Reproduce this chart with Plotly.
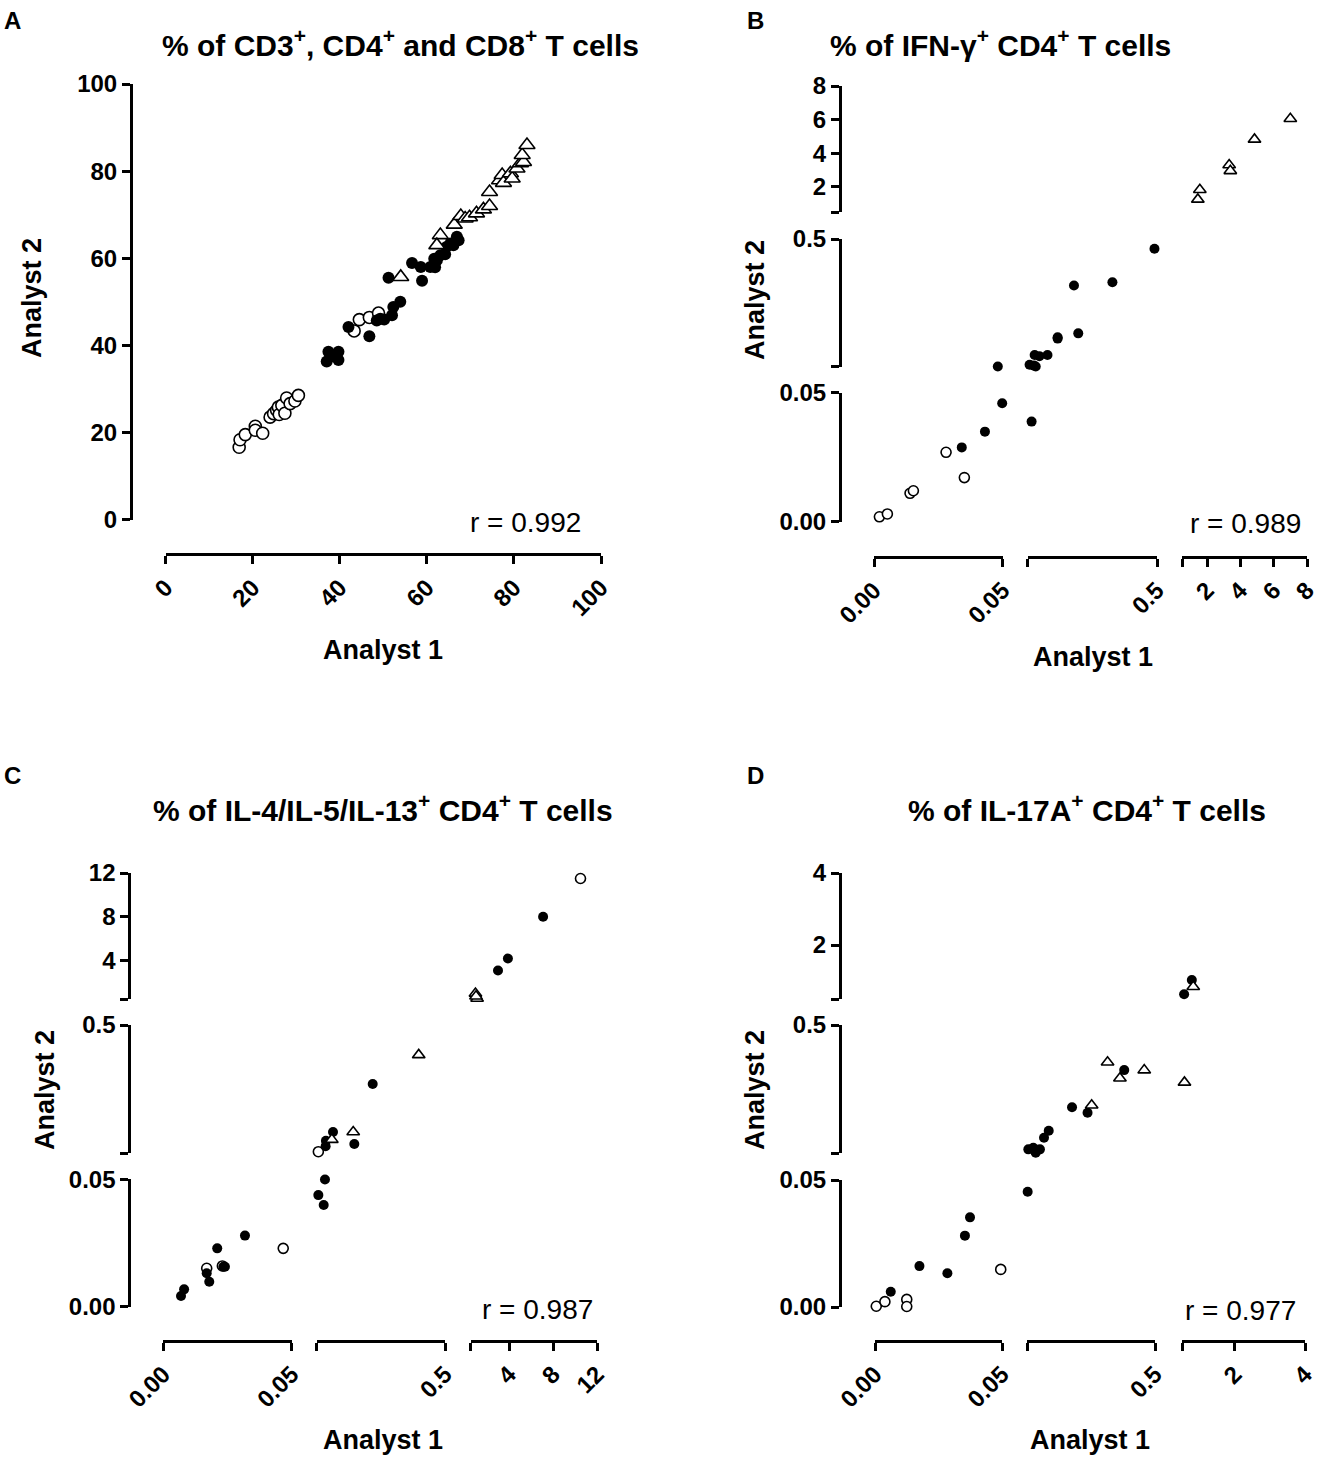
import math
import plotly.graph_objects as go

W, H = 1318, 1458
FONT = "Liberation Sans, Arial, sans-serif"

# ---------------- data ----------------
# Panel A: % of CD3+, CD4+ and CD8+ T cells
a_open_x = [16.9, 17.1, 18.3, 20.6, 20.6, 22.3, 24.0, 24.8, 25.5, 25.9, 26.1, 26.7, 27.4, 27.8, 28.6, 29.7, 30.5,
            43.3, 44.5, 46.8, 48.9]
a_open_y = [16.6, 18.3, 19.5, 21.4, 20.5, 19.8, 23.5, 24.3, 25.1, 25.8, 24.1, 26.2, 24.4, 27.9, 26.6, 27.2, 28.5,
            43.3, 45.9, 46.4, 47.4]
a_fill_x = [37.4, 39.7, 37.0, 39.7, 38.4, 42.0, 46.8, 48.5, 49.3, 50.2, 52.0, 52.3, 53.9, 51.2, 56.6, 58.9, 58.6,
            60.8, 61.9, 61.7, 62.3, 63.1, 64.2, 64.5, 65.4, 66.9, 67.3, 66.1]
a_fill_y = [38.5, 38.5, 36.3, 36.6, 37.5, 44.2, 42.1, 45.7, 46.1, 45.9, 46.9, 48.8, 50.0, 55.5, 58.9, 54.8, 58.0,
            58.0, 57.9, 59.9, 59.5, 60.7, 60.9, 62.6, 63.4, 64.9, 64.1, 63.0]
a_tri_x = [54.0, 63.1, 62.3, 66.3, 67.8, 68.8, 69.8, 71.4, 73.0, 74.4, 74.4, 76.7, 77.3, 77.6, 79.2, 79.6, 80.7,
           81.5, 82.2, 81.9, 83.0]
a_tri_y = [55.7, 65.3, 63.0, 67.7, 69.7, 69.1, 69.4, 70.3, 71.2, 72.0, 75.2, 77.9, 79.1, 77.3, 79.5, 78.3, 80.6,
           81.8, 82.1, 83.7, 86.0]

# Panel B: % of IFN-γ+ CD4+ T cells
b_open_x = [0.0021, 0.0052, 0.0140, 0.0153, 0.0280, 0.0351]
b_open_y = [0.0019, 0.0030, 0.0110, 0.0120, 0.0269, 0.0171]
b_fill_x = [0.0341, 0.0431, 0.0498, 0.0481, 0.0536, 0.0517, 0.0559, 0.0577, 0.0566, 0.0616, 0.0711,
            0.0852, 0.0852, 0.123, 0.114, 0.226, 0.478]
b_fill_y = [0.0288, 0.0349, 0.0459, 0.0502, 0.0388, 0.0518, 0.0510, 0.0502, 0.0618, 0.0605, 0.0618,
            0.0851, 0.0830, 0.0912, 0.216, 0.229, 0.419]
b_tri_x = [1.45, 1.57, 3.33, 3.40, 4.85, 7.0]
b_tri_y = [1.25, 1.82, 3.30, 2.95, 4.82, 6.05]

# Panel C: % of IL-4/IL-5/IL-13+ CD4+ T cells
c_open_x = [0.0169, 0.0230, 0.0467, 0.0515, 10.5]
c_open_y = [0.0151, 0.0160, 0.0229, 0.0512, 11.5]
c_fill_x = [0.0069, 0.0081, 0.0169, 0.0179, 0.0210, 0.0234, 0.0240, 0.0318, 0.0515, 0.0580, 0.0567,
            0.0587, 0.0590, 0.0670, 0.0982, 0.1366, 3.0, 3.9, 7.1]
c_fill_y = [0.0042, 0.0068, 0.0131, 0.0098, 0.0229, 0.0157, 0.0157, 0.0279, 0.0438, 0.0499, 0.0399,
            0.0564, 0.0622, 0.0729, 0.0587, 0.173, 3.1, 4.2, 8.0]
c_tri_x = [0.0656, 0.0963, 0.312, 0.95, 1.10, 1.0]
c_tri_y = [0.0636, 0.0729, 0.292, 1.0, 0.55, 0.75]

# Panel D: % of IL-17A+ CD4+ T cells
d_open_x = [0.0005, 0.0039, 0.0125, 0.0125, 0.0495]
d_open_y = [0.0003, 0.0021, 0.0030, 0.0002, 0.0148]
d_fill_x = [0.0062, 0.0175, 0.0285, 0.0354, 0.0374, 0.0506, 0.0512, 0.0560, 0.0585, 0.0631, 0.0679,
            0.0739, 0.1124, 0.1486, 0.2874, 0.56, 0.78]
d_fill_y = [0.0060, 0.0161, 0.0133, 0.0281, 0.0353, 0.0454, 0.0534, 0.0550, 0.0502, 0.0534, 0.0658,
            0.0746, 0.1139, 0.1031, 0.2221, 0.63, 1.03]
d_tri_x = [0.160, 0.213, 0.266, 0.412, 0.57, 0.82]
d_tri_y = [0.118, 0.256, 0.192, 0.222, 0.178, 0.84]

# axis tick labels
a_ticks = [0, 20, 40, 60, 80, 100]
seg1_ticks = [0, 0.05]
seg1_text = ["0.00", "0.05"]
seg2_ticks = [0.5]          # labelled tick of the log segment
seg2_text = ["0.5"]
seg2_edge = [0.05]          # unlabelled tick at the start of the log segment
seg3_edge = [0.5]           # unlabelled tick at the start of the upper segment
b_seg3_ticks = [2, 4, 6, 8]
c_seg3_ticks = [4, 8, 12]
d_seg3_ticks = [2, 4]

titles = {
    "A": "% of CD3<sup>+</sup>, CD4<sup>+</sup> and CD8<sup>+</sup> T cells",
    "B": "% of IFN-γ<sup>+</sup> CD4<sup>+</sup> T cells",
    "C": "% of IL-4/IL-5/IL-13<sup>+</sup> CD4<sup>+</sup> T cells",
    "D": "% of IL-17A<sup>+</sup> CD4<sup>+</sup> T cells",
}
r_values = {"A": "r = 0.992", "B": "r = 0.989", "C": "r = 0.987", "D": "r = 0.977"}

# ---------------- helpers ----------------
def px(x):
    return x / W

def py(y):
    return 1 - y / H

TICKFONT = dict(family=FONT, size=24, color="black", weight="bold")

def axis_common():
    return dict(showline=True, linewidth=3, linecolor="black", ticks="outside", ticklen=8,
                tickwidth=3, tickcolor="black", showgrid=False, zeroline=False, automargin=False,
                tickfont=TICKFONT, fixedrange=True, ticklabeloverflow="allow")

def edge_minor(vals):
    return dict(tickmode="array", tickvals=vals, ticks="outside", ticklen=8, tickwidth=3,
                tickcolor="black", showgrid=False)

layout = dict(width=W, height=H, margin=dict(l=0, r=0, t=0, b=0, pad=0, autoexpand=False),
              paper_bgcolor="white", plot_bgcolor="rgba(0,0,0,0)", showlegend=False)

def make_axis(d0, d1, pos, rng, tickvals, ticktext, log, edge, is_x):
    ax = axis_common()
    ax.update(domain=[d0, d1], anchor="free", position=pos,
              tickmode="array", tickvals=tickvals, ticktext=ticktext)
    if is_x:
        ax["tickangle"] = -45
    if log:
        ax.update(type="log", range=[math.log10(rng[0]), math.log10(rng[1])])
    else:
        ax.update(range=rng)
    if edge:
        ax["minor"] = edge_minor(edge)
    return ax

def add_x(n, p0, p1, line_y, rng, tickvals, ticktext, log=False, edge=None):
    layout["xaxis" if n == 1 else f"xaxis{n}"] = make_axis(px(p0), px(p1), py(line_y), rng, tickvals,
                                                          ticktext, log, edge, True)

def add_y(n, p_bottom, p_top, line_x, rng, tickvals, ticktext, log=False, edge=None):
    layout["yaxis" if n == 1 else f"yaxis{n}"] = make_axis(py(p_bottom), py(p_top), px(line_x), rng,
                                                          tickvals, ticktext, log, edge, False)

# Panel A axes
add_x(1, 165.6, 601, 554, [0, 100], a_ticks, [str(t) for t in a_ticks])
add_y(1, 519.5, 84, 131, [0, 100], a_ticks, [str(t) for t in a_ticks])

panels = {
    "B": dict(xs=[(874, 1002.7), (1027.7, 1157), (1182, 1307)], xline=556.7,
              ys=[(521.7, 392.7), (366.7, 239), (212, 86)], yline=840,
              s3=[0.5, 8], s3t=b_seg3_ticks, n0=2,
              groups=[(b_open_x, b_open_y, "open"), (b_fill_x, b_fill_y, "fill"), (b_tri_x, b_tri_y, "tri")]),
    "C": dict(xs=[(163.3, 291.7), (316.7, 445), (470.5, 597)], xline=1340.7,
              ys=[(1306.7, 1179.3), (1153, 1025), (999, 873)], yline=129.3,
              s3=[0.5, 12], s3t=c_seg3_ticks, n0=5,
              groups=[(c_open_x, c_open_y, "open"), (c_fill_x, c_fill_y, "fill"), (c_tri_x, c_tri_y, "tri")]),
    "D": dict(xs=[(875, 1002), (1027, 1155), (1182, 1305)], xline=1340.7,
              ys=[(1307, 1180), (1153, 1025), (999, 873)], yline=840,
              s3=[0.5, 4], s3t=d_seg3_ticks, n0=8,
              groups=[(d_open_x, d_open_y, "open"), (d_fill_x, d_fill_y, "fill"), (d_tri_x, d_tri_y, "tri")]),
}

for key, p in panels.items():
    n0 = p["n0"]
    s3text = [str(t) for t in p["s3t"]]
    add_x(n0, *p["xs"][0], p["xline"], [0, 0.05], seg1_ticks, seg1_text)
    add_x(n0 + 1, *p["xs"][1], p["xline"], [0.05, 0.5], seg2_ticks, seg2_text, log=True, edge=seg2_edge)
    add_x(n0 + 2, *p["xs"][2], p["xline"], p["s3"], p["s3t"], s3text, edge=seg3_edge)
    add_y(n0, *p["ys"][0], p["yline"], [0, 0.05], seg1_ticks, seg1_text)
    add_y(n0 + 1, *p["ys"][1], p["yline"], [0.05, 0.5], seg2_ticks, seg2_text, log=True, edge=seg2_edge)
    add_y(n0 + 2, *p["ys"][2], p["yline"], p["s3"], p["s3t"], s3text, edge=seg3_edge)

def marker_style(kind, big=False):
    if kind == "fill":
        return dict(symbol="circle", size=12 if big else 10, color="black", line=dict(width=0))
    if kind == "open":
        return dict(symbol="circle", size=12 if big else 10, color="white", line=dict(width=1.6, color="black"))
    return dict(symbol="triangle-up", size=14 if big else 11, color="white", line=dict(width=1.6, color="black"))

def seg_of(v):
    if v <= 0.05:
        return 0
    if v <= 0.5:
        return 1
    return 2

fig = go.Figure()

for xs, ys, kind in [(a_open_x, a_open_y, "open"), (a_fill_x, a_fill_y, "fill"), (a_tri_x, a_tri_y, "tri")]:
    fig.add_trace(go.Scatter(x=xs, y=ys, mode="markers", marker=marker_style(kind, big=True),
                             xaxis="x", yaxis="y", cliponaxis=False, hoverinfo="x+y"))

for key, p in panels.items():
    n0 = p["n0"]
    for xs, ys, kind in p["groups"]:
        buckets = {}
        for xv, yv in zip(xs, ys):
            buckets.setdefault((seg_of(xv), seg_of(yv)), []).append((xv, yv))
        for (i, j), pts in sorted(buckets.items()):
            fig.add_trace(go.Scatter(x=[q[0] for q in pts], y=[q[1] for q in pts], mode="markers",
                                     marker=marker_style(kind), xaxis=f"x{n0 + i}", yaxis=f"y{n0 + j}",
                                     cliponaxis=False, hoverinfo="x+y"))

# ---------------- annotations ----------------
ann = []
def text(x, y, s, size, bold=True, angle=0, xanchor="center", yanchor="middle"):
    ann.append(dict(x=px(x), y=py(y), xref="paper", yref="paper", text=s, showarrow=False,
                    xanchor=xanchor, yanchor=yanchor, textangle=angle,
                    font=dict(family=FONT, size=size, color="black", weight="bold" if bold else "normal")))

text(2, 20, "A", 24, xanchor="left")
text(745, 20, "B", 24, xanchor="left")
text(2, 775, "C", 24, xanchor="left")
text(745, 775, "D", 24, xanchor="left")
text(400, 43, titles["A"], 30)
text(1000, 43, titles["B"], 30)
text(383, 808, titles["C"], 30)
text(1087, 808, titles["D"], 30)
text(383, 650, "Analyst 1", 27)
text(1093, 657, "Analyst 1", 27)
text(383, 1440, "Analyst 1", 27)
text(1090, 1440, "Analyst 1", 27)
text(32, 298, "Analyst 2", 27, angle=-90)
text(755, 300, "Analyst 2", 27, angle=-90)
text(45, 1090, "Analyst 2", 27, angle=-90)
text(755, 1090, "Analyst 2", 27, angle=-90)
text(525, 522, r_values["A"], 28, bold=False)
text(1245, 523, r_values["B"], 28, bold=False)
text(537, 1309, r_values["C"], 28, bold=False)
text(1240, 1310, r_values["D"], 28, bold=False)

layout["annotations"] = ann
fig.update_layout(**layout)
fig.write_html("out.html", config={"displayModeBar": False},
               post_script="document.body.style.margin='0';document.body.style.overflow='hidden';")
